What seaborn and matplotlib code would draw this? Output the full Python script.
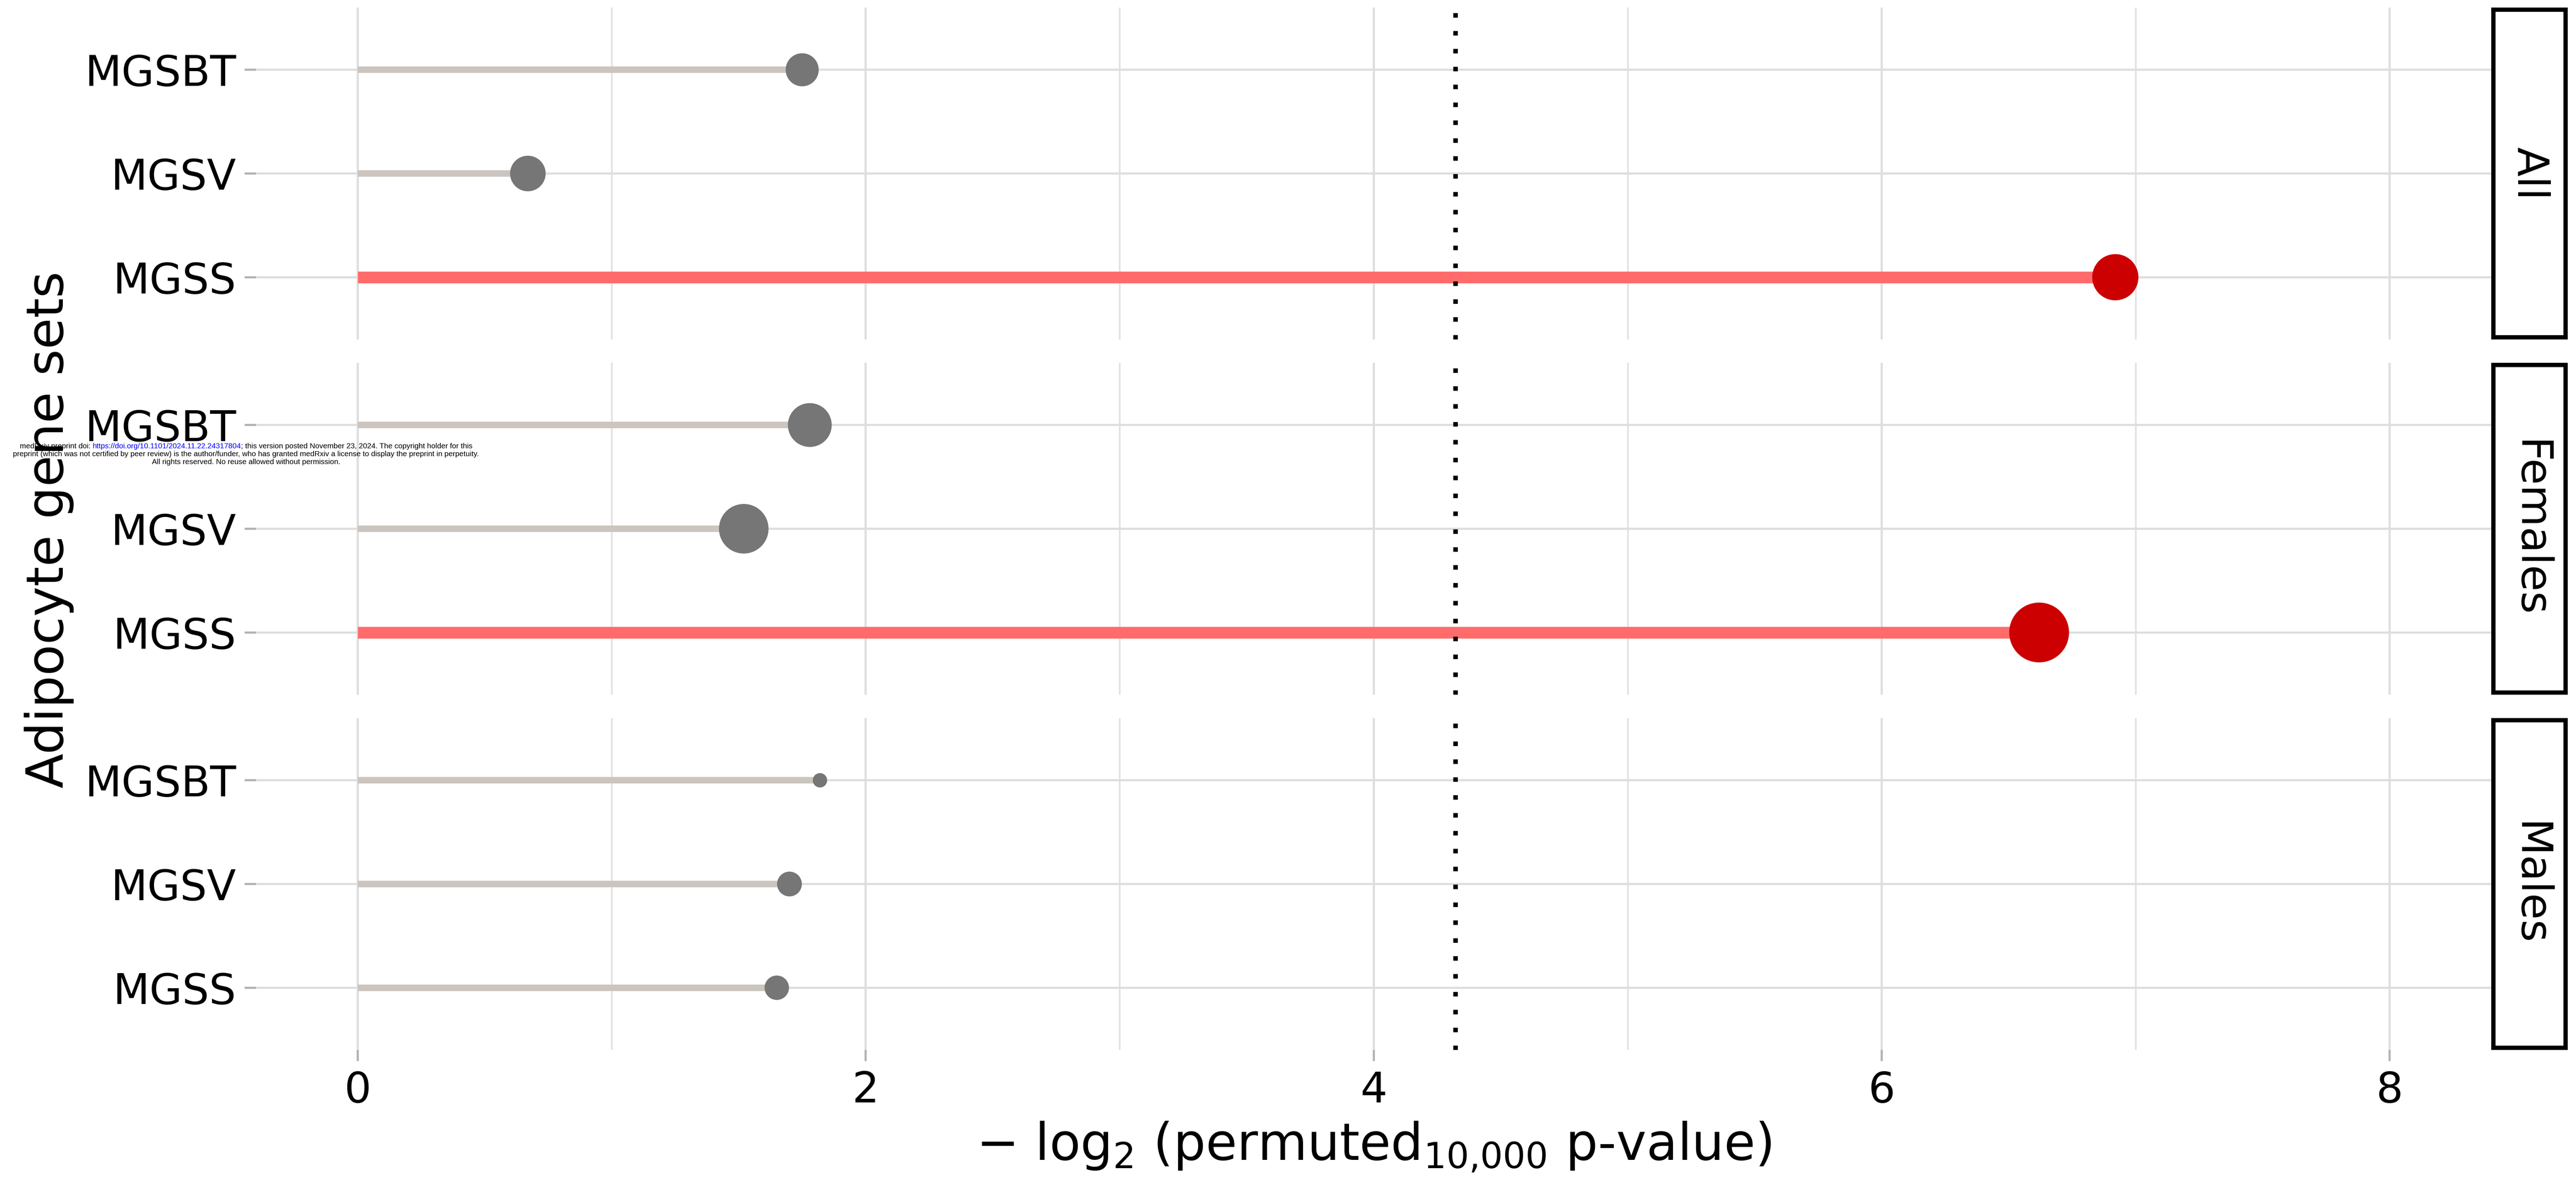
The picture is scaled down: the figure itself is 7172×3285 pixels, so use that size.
import numpy as np
import pandas as pd
import matplotlib
matplotlib.use("Agg")
import matplotlib.pyplot as plt
import seaborn as sns

# ---------------- data ----------------
groups = ["All", "Females", "Males"]
gene_sets = ["MGSBT", "MGSV", "MGSS"]
all_values = [1.75, 0.67, 6.92]
female_values = [1.78, 1.52, 6.62]
male_values = [1.82, 1.70, 1.65]
all_point_size = [8.46, 9.80, 16.54]
female_point_size = [14.88, 19.04, 27.72]
male_point_size = [1.60, 4.76, 4.62]
p_threshold = 0.05
x_ticks = [0, 2, 4, 6, 8]
x_minor_ticks = [1, 3, 5, 7]

values_by_group = {"All": all_values, "Females": female_values, "Males": male_values}
size_by_group = {"All": all_point_size, "Females": female_point_size, "Males": male_point_size}
threshold = -np.log2(p_threshold)

rows = []
for g in groups:
    for gs, v, s in zip(gene_sets, values_by_group[g], size_by_group[g]):
        rows.append({"group": g, "gene_set": gs, "value": v, "psize": s})
df = pd.DataFrame(rows)
df["ypos"] = df["gene_set"].map({gs: i for i, gs in enumerate(gene_sets)})
df["sig"] = df["value"] > threshold

# ---------------- style ----------------
sns.set_theme(style="whitegrid")
plt.rcParams["font.family"] = ["DejaVu Sans"]
plt.rcParams["mathtext.fontset"] = "dejavusans"
plt.rcParams["text.color"] = "black"

W, H = 7172, 3285
fig = plt.figure(figsize=(W / 100, H / 100), dpi=100)
fig.patch.set_facecolor("white")

RED_PT, RED_LINE = "#CC0000", "#FF6B6B"
GREY_PT, GREY_LINE = "#767676", "#CCC5BF"
GRID = "#DEDEDE"

left_px, right_px = 713, 6936
panel_tops = [21, 1010, 1999]
panel_h = 924

for i, g in enumerate(groups):
    top = panel_tops[i]
    ax = fig.add_axes([left_px / W, 1 - (top + panel_h) / H,
                       (right_px - left_px) / W, panel_h / H])
    sub = df[df["group"] == g]
    ax.set_xlim(-0.4, 8.4)
    ax.set_ylim(2.6, -0.6)
    ax.set_xticks(x_ticks)
    ax.set_xticks(x_minor_ticks, minor=True)
    ax.set_yticks(range(len(gene_sets)))
    ax.set_yticklabels(gene_sets)
    ax.set_axisbelow(True)
    ax.grid(which="major", axis="both", color=GRID, lw=4.3)
    ax.grid(which="minor", axis="x", color="#E2E2E2", lw=3.4)
    ax.grid(which="minor", axis="y", visible=False)
    for sp in ax.spines.values():
        sp.set_visible(False)
    ax.set_facecolor("white")
    ax.tick_params(axis="y", which="major", left=True, length=23, width=4.3,
                   color="#B3B3B3", pad=17, labelsize=85, labelcolor="black")
    ax.tick_params(axis="x", which="minor", length=0)
    if i == len(groups) - 1:
        ax.tick_params(axis="x", which="major", bottom=True, length=22, width=4.3,
                       color="#B3B3B3", pad=18, labelsize=85, labelcolor="black")
    else:
        ax.tick_params(axis="x", which="major", bottom=False, labelbottom=False, length=0)

    # lollipop sticks
    ns = sub[~sub["sig"]]
    sg = sub[sub["sig"]]
    ax.hlines(ns["ypos"], 0, ns["value"], colors=GREY_LINE, lw=13, capstyle="butt", zorder=2)
    ax.hlines(sg["ypos"], 0, sg["value"], colors=RED_LINE, lw=23.5, capstyle="butt", zorder=2)

    # significance threshold
    ln = ax.axvline(threshold, color="black", lw=9.1, linestyle=(0, (1, 2.94)), zorder=3)
    ln.set_dash_capstyle("butt")

    # points
    sns.scatterplot(data=sub, x="value", y="ypos", hue="sig",
                    palette={True: RED_PT, False: GREY_PT},
                    size="psize", sizes=(0, 518.4 * 30), size_norm=(0, 30),
                    linewidth=0, legend=False, ax=ax, zorder=4)
    ax.set_xlabel("")
    ax.set_ylabel("")
    ax.set_xlim(-0.4, 8.4)
    ax.set_ylim(2.6, -0.6)

    # facet strip
    sax = fig.add_axes([(right_px + 6) / W, 1 - (top + panel_h - 6) / H,
                        201 / W, (panel_h - 12) / H])
    sax.set_xticks([])
    sax.set_yticks([])
    sax.grid(False)
    sax.set_facecolor("white")
    for sp in sax.spines.values():
        sp.set_visible(True)
        sp.set_color("black")
        sp.set_linewidth(8.6)
    sax.text(0.5, 0.5, g, rotation=-90, ha="center", va="center", color="black",
             fontsize=86, transform=sax.transAxes)

# axis titles
fig.text(137 / W, 1 - 1475 / H, "Adipocyte gene sets", rotation=90, color="black",
         ha="center", va="center", fontsize=102, zorder=5)
fig.text(3825 / W, 1 - 3230 / H, r"$-$ log$_2$ (permuted$_{10{,}000}$ p-value)",
         ha="center", va="baseline", fontsize=102, color="black", zorder=5)

# medRxiv watermark (drawn above the panels, below the axis title)
wm_font = dict(family=["Liberation Sans", "DejaVu Sans"], fontsize=15, zorder=3)
cx = 685
renderer = fig.canvas.get_renderer()
parts = [("medRxiv preprint doi:", "black"),
         ("https://doi.org/10.1101/2024.11.22.24317804", "blue"),
         ("; this version posted November 23, 2024. The copyright holder for this", "black")]
tmp = fig.text(0, 0, "a a", **wm_font)
w_sp = tmp.get_window_extent(renderer).width
tmp.set_text("aa")
w_sp -= tmp.get_window_extent(renderer).width
tmp.remove()
texts = []
widths = []
for t, c in parts:
    tt = fig.text(0, 1 - 1242 / H, t, color=c, va="center", ha="left", **wm_font)
    texts.append(tt)
    widths.append(tt.get_window_extent(renderer).width)
total = widths[0] + w_sp + widths[1] + widths[2]
x0 = cx - total / 2
texts[0].set_x(x0 / W)
texts[1].set_x((x0 + widths[0] + w_sp) / W)
texts[2].set_x((x0 + widths[0] + w_sp + widths[1]) / W)
fig.text(cx / W, 1 - 1264 / H,
         "preprint (which was not certified by peer review) is the author/funder, who has granted medRxiv a license to display the preprint in perpetuity.",
         ha="center", va="center", color="black", **wm_font)
fig.text(cx / W, 1 - 1286 / H, "All rights reserved. No reuse allowed without permission.",
         ha="center", va="center", color="black", **wm_font)

fig.savefig("out.png", dpi=100, facecolor="white")
